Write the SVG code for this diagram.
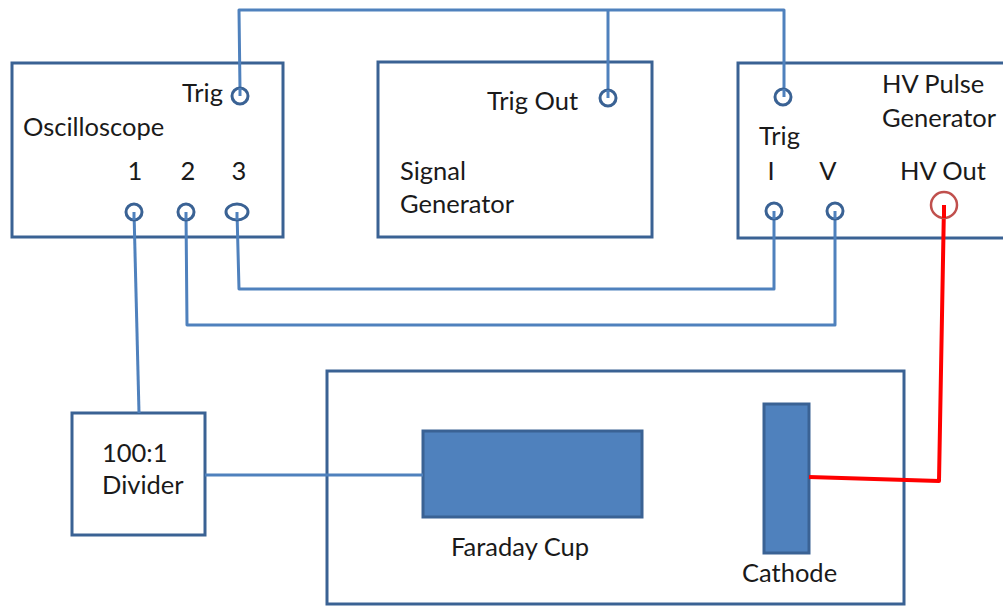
<svg xmlns="http://www.w3.org/2000/svg" width="1003" height="607" viewBox="0 0 1003 607">
  <style>
    .box { fill: #ffffff; stroke: #3a6294; stroke-width: 3; }
    .solid { fill: #4f81bd; stroke: #3a6294; stroke-width: 3; }
    .port { fill: #ffffff; stroke: #3a6294; stroke-width: 3; }
    .wire { fill: none; stroke: #4f81bd; stroke-width: 3; stroke-linejoin: round; }
    .hv { fill: none; stroke: #ff0000; stroke-width: 4; stroke-linejoin: round; }
    .hvport { fill: #ffffff; stroke: #c0504d; stroke-width: 2.5; }
    text { font-family: "Lato", "Liberation Sans", sans-serif; font-size: 25.5px; fill: #1a1a1a; }
  </style>

  <!-- boxes first so wires sit on top -->
  <g id="oscilloscope">
    <rect class="box" x="12" y="63" width="271" height="174"/>
    <text x="182" y="102">Trig</text>
    <text x="23" y="136">Oscilloscope</text>
    <text x="135" y="180" text-anchor="middle">1</text>
    <text x="188" y="180" text-anchor="middle">2</text>
    <text x="239" y="180" text-anchor="middle">3</text>
  </g>

  <g id="signal-generator">
    <rect class="box" x="378" y="62" width="274" height="175"/>
    <text x="487" y="110">Trig Out</text>
    <text x="400" y="180">Signal</text>
    <text x="400" y="213">Generator</text>
  </g>

  <g id="hv-pulse-generator">
    <rect class="box" x="738" y="63" width="275" height="175"/>
    <text x="759" y="145">Trig</text>
    <text x="882" y="93">HV Pulse</text>
    <text x="882" y="127">Generator</text>
    <text x="900" y="180">HV Out</text>
    <text x="771" y="180" text-anchor="middle">I</text>
    <text x="828" y="180" text-anchor="middle">V</text>
  </g>

  <g id="divider">
    <rect class="box" x="72" y="413" width="133" height="122"/>
    <text x="102" y="462">100:1</text>
    <text x="102" y="494">Divider</text>
  </g>

  <g id="vacuum-chamber">
    <rect class="box" x="327" y="371" width="577" height="233"/>
  </g>

  <g id="faraday-cup">
    <rect class="solid" x="423" y="431" width="219" height="86"/>
    <text x="451" y="556">Faraday Cup</text>
  </g>

  <g id="cathode">
    <rect class="solid" x="764" y="404" width="45" height="149"/>
    <text x="742" y="582">Cathode</text>
  </g>

  <g id="connectors">
    <!-- trigger bus -->
    <polyline class="wire" points="240,90 239,10 784,10 784,89"/>
    <line class="wire" x1="608" y1="90" x2="608" y2="10"/>
    <!-- scope ch3 to current monitor -->
    <polyline class="wire" points="237,212 239,289 774,289 774,211"/>
    <!-- scope ch2 to voltage monitor -->
    <polyline class="wire" points="186,212 187,325 835,325 835,211"/>
    <!-- scope ch1 to divider -->
    <line class="wire" x1="134" y1="212" x2="139" y2="413"/>
    <!-- divider to Faraday cup -->
    <line class="wire" x1="205" y1="475" x2="423" y2="475"/>
    <!-- high-voltage feed to cathode -->
    <polyline class="hv" points="944,205 939,481 809,477"/>
  </g>

  <g id="ports">
    <circle class="port" cx="240" cy="96" r="8"/>
    <circle class="port" cx="608" cy="98" r="8"/>
    <circle class="port" cx="783" cy="97" r="8"/>
    <circle class="port" cx="134" cy="212" r="8"/>
    <circle class="port" cx="186" cy="212" r="8"/>
    <ellipse class="port" cx="237" cy="212" rx="11" ry="8"/>
    <circle class="port" cx="774" cy="211" r="8"/>
    <circle class="port" cx="835" cy="211" r="8"/>
    <circle class="hvport" cx="944" cy="205" r="13"/>
    <!-- stub wires drawn into port centres -->
    <line class="wire" x1="240" y1="88" x2="240" y2="96"/>
    <line class="wire" x1="608" y1="90" x2="608" y2="98"/>
    <line class="wire" x1="784" y1="89" x2="784" y2="97"/>
    <line class="wire" x1="134" y1="212" x2="134" y2="220"/>
    <line class="wire" x1="186" y1="212" x2="186" y2="220"/>
    <line class="wire" x1="237" y1="212" x2="237" y2="220"/>
    <line class="wire" x1="774" y1="211" x2="774" y2="219"/>
    <line class="wire" x1="835" y1="211" x2="835" y2="219"/>
    <line class="hv" x1="944" y1="205" x2="944" y2="218"/>
  </g>
</svg>
